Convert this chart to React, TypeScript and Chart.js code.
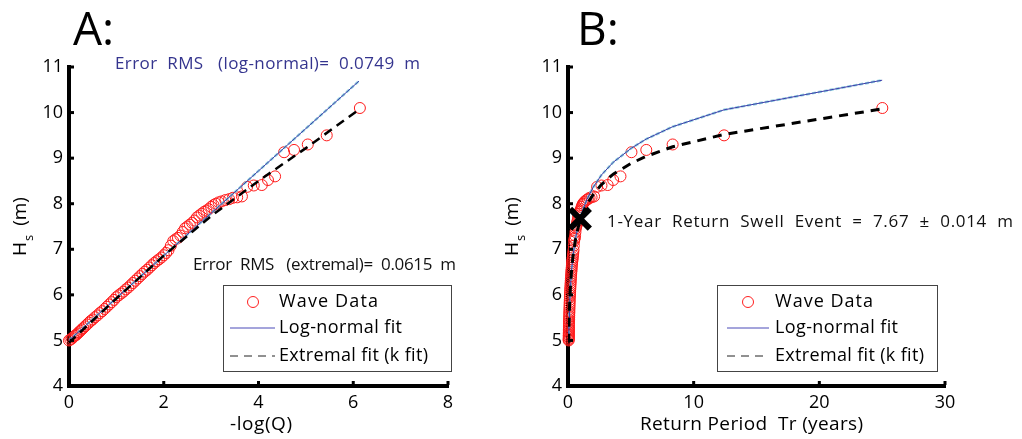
import React, { useEffect, useRef } from "react";
import { Chart, registerables } from "chart.js";
Chart.register(...registerables);

const FONT = "'Open Sans', 'DejaVu Sans', sans-serif";

// ---- Wave data (same events shown in both panels) ----
const negLogQ = [
  0.0, 0.03, 0.06, 0.09, 0.12, 0.15, 0.18, 0.21, 0.24, 0.27, 0.3, 0.34, 0.38, 0.42, 0.46, 0.5,
  0.55, 0.6, 0.65, 0.7, 0.75, 0.8, 0.85, 0.9, 0.95, 1.0, 1.05, 1.1, 1.15, 1.2, 1.25, 1.3, 1.35,
  1.4, 1.45, 1.5, 1.55, 1.6, 1.65, 1.7, 1.75, 1.8, 1.85, 1.9, 1.95, 2.0, 2.05, 2.1, 2.15, 2.2,
  2.25, 2.3, 2.35, 2.4, 2.45, 2.5, 2.55, 2.6, 2.65, 2.7, 2.75, 2.8, 2.85, 2.9, 2.95, 3.0, 3.05,
  3.1, 3.16, 3.22, 3.3, 3.38, 3.46, 3.55, 3.65, 3.76, 3.9, 4.07, 4.2, 4.35, 4.54, 4.75, 5.04,
  5.44, 6.14,
];
const hsData = [
  5.0, 5.02, 5.04, 5.07, 5.1, 5.12, 5.15, 5.18, 5.21, 5.24, 5.27, 5.31, 5.35, 5.39, 5.43, 5.46,
  5.51, 5.55, 5.6, 5.64, 5.69, 5.74, 5.79, 5.84, 5.89, 5.95, 5.99, 6.03, 6.07, 6.12, 6.16, 6.21,
  6.26, 6.31, 6.36, 6.41, 6.46, 6.51, 6.55, 6.6, 6.65, 6.7, 6.74, 6.78, 6.82, 6.87, 6.92, 6.98,
  7.08, 7.18, 7.22, 7.25, 7.3, 7.38, 7.46, 7.5, 7.54, 7.58, 7.63, 7.7, 7.74, 7.78, 7.82, 7.85,
  7.88, 7.93, 7.97, 8.0, 8.03, 8.05, 8.08, 8.1, 8.13, 8.14, 8.16, 8.37, 8.4, 8.41, 8.52, 8.6,
  9.13, 9.18, 9.3, 9.5, 10.1,
];
const returnPeriod = [
  0.054, 0.0555, 0.0572, 0.059, 0.0608, 0.0626, 0.0645, 0.0665, 0.0685, 0.0706, 0.0728, 0.0757,
  0.0788, 0.082, 0.0854, 0.0889, 0.0934, 0.0982, 0.1032, 0.1085, 0.1141, 0.12, 0.1261, 0.1326,
  0.1394, 0.1465, 0.154, 0.1619, 0.1702, 0.179, 0.1881, 0.1978, 0.2079, 0.2186, 0.2298, 0.2416,
  0.254, 0.267, 0.2807, 0.295, 0.3102, 0.3261, 0.3428, 0.3604, 0.3788, 0.3983, 0.4187, 0.4402,
  0.4627, 0.4864, 0.5114, 0.5376, 0.5652, 0.5941, 0.6246, 0.6566, 0.6903, 0.7257, 0.7629,
  0.802, 0.8432, 0.8864, 0.9318, 0.9796, 1.0298, 1.0826, 1.1381, 1.1965, 1.2705, 1.349, 1.4614,
  1.5831, 1.7149, 1.8764, 2.0738, 2.3149, 2.6628, 3.1562, 3.5944, 4.1761, 5.0499, 6.2298,
  8.3259, 12.421, 25.012,
];

// ---- Fits, panel A ----
const lognA_x = [0, 1, 2, 3, 4, 5, 6.12];
const lognA_y = [5.0, 5.93, 6.86, 7.79, 8.72, 9.65, 10.69];
const extA_x = [0, 1, 2, 3, 4, 5, 6.14];
const extA_y = [4.95, 5.92, 6.86, 7.73, 8.5, 9.22, 10.08];

// ---- Fits, panel B ----
const fitB_tr = [0.054, 0.08, 0.12, 0.18, 0.27, 0.4, 0.6, 0.8, 1.08, 1.5, 2.0, 2.66, 3.6, 5.05, 6.23, 8.33, 12.42, 25.0];
const lognB_y = [5.0, 5.37, 5.74, 6.12, 6.5, 6.86, 7.24, 7.51, 7.79, 8.09, 8.36, 8.63, 8.91, 9.22, 9.42, 9.69, 10.06, 10.71];
const extB_y = [4.95, 5.33, 5.73, 6.11, 6.49, 6.86, 7.22, 7.47, 7.73, 7.98, 8.2, 8.42, 8.65, 8.89, 9.04, 9.25, 9.52, 10.08];

const oneYearTr = [0.95];
const oneYearHs = [7.67];

// ---- Tick labels ----
const xTicksA = [0, 2, 4, 6, 8];
const xTicksB = [0, 10, 20, 30];
const yTicks = [4, 5, 6, 7, 8, 9, 10, 11];

const pts = (xs: number[], ys: number[]) => xs.map((x, i) => ({ x, y: ys[i] }));

type TextSpec = { t: string; x: number; y: number; w: number; color: string; size: number };
type Spec = {
  left: number;
  width: number;
  xMax: number;
  xTicks: number[];
  yAxisW: number;
  padRight: number;
  title: string;
  titleX: number;
  yTitleX: number;
  xTitle: TextSpec;
  texts: TextSpec[];
  legend: { x0: number; y0: number; x1: number; y1: number; sym: number; l0: number; l1: number; tx: number; w: number[] };
  datasets: any[];
};

function spaced(ctx: CanvasRenderingContext2D, s: TextSpec, off: number) {
  ctx.save();
  ctx.font = `${s.size}px ${FONT}`;
  ctx.fillStyle = s.color;
  ctx.textBaseline = "middle";
  ctx.textAlign = "left";
  const chars = Array.from(s.t);
  const ws = chars.map((c) => ctx.measureText(c).width);
  const total = ws.reduce((a, b) => a + b, 0);
  const extra = chars.length > 1 ? (s.w - total) / (chars.length - 1) : 0;
  let cx = s.x - off;
  chars.forEach((c, i) => {
    ctx.fillText(c, cx, s.y);
    cx += ws[i] + extra;
  });
  ctx.restore();
}

function overlay(spec: Spec) {
  return {
    id: "overlay" + spec.title,
    afterDraw(chart: any) {
      const ctx: CanvasRenderingContext2D = chart.ctx;
      const off = spec.left;
      const ca = chart.chartArea;
      // tick marks (inward)
      ctx.save();
      ctx.fillStyle = "#000";
      const xs = chart.scales.x, ys = chart.scales.y;
      spec.xTicks.forEach((v) => {
        const px = xs.getPixelForValue(v);
        ctx.fillRect(px - 1.5, ca.bottom - 5, 3, 4);
      });
      yTicks.forEach((v) => {
        const py = ys.getPixelForValue(v);
        ctx.fillRect(ca.left + 1, py - 1.5, 4, 3);
      });
      ctx.restore();
      // panel title
      ctx.save();
      ctx.font = `46px ${FONT}`;
      ctx.fillStyle = "#000";
      ctx.textBaseline = "alphabetic";
      ctx.fillText(spec.title, spec.titleX - off, 45);
      ctx.restore();
      // y axis title H_s (m)
      ctx.save();
      const cy = (ca.top + ca.bottom) / 2;
      ctx.translate(spec.yTitleX - off, cy);
      ctx.rotate(-Math.PI / 2);
      ctx.fillStyle = "#000";
      ctx.textBaseline = "middle";
      ctx.font = `19px ${FONT}`;
      const wH = ctx.measureText("H").width;
      ctx.font = `13px ${FONT}`;
      const wS = ctx.measureText("s").width;
      ctx.font = `19px ${FONT}`;
      const wM = ctx.measureText("  (m)").width;
      let x0 = -(wH + wS + wM) / 2;
      ctx.fillText("H", x0, 0);
      ctx.font = `13px ${FONT}`;
      ctx.fillText("s", x0 + wH + 1, 8);
      ctx.font = `19px ${FONT}`;
      ctx.fillText("  (m)", x0 + wH + wS, 0);
      ctx.restore();
      // x title and annotations
      spaced(ctx, spec.xTitle, off);
      spec.texts.forEach((t) => spaced(ctx, t, off));
      // legend
      const L = spec.legend;
      ctx.save();
      ctx.fillStyle = "#fff";
      ctx.fillRect(L.x0 - off, L.y0, L.x1 - L.x0, L.y1 - L.y0);
      ctx.strokeStyle = "#444";
      ctx.lineWidth = 1;
      ctx.strokeRect(L.x0 - off + 0.5, L.y0 + 0.5, L.x1 - L.x0, L.y1 - L.y0);
      const rowY = [L.y0 + 17, L.y0 + 43, L.y0 + 71];
      ctx.strokeStyle = "#ff2020";
      ctx.beginPath();
      ctx.arc(L.sym - off, rowY[0], 5.5, 0, Math.PI * 2);
      ctx.stroke();
      ctx.strokeStyle = "#4a4ab8";
      ctx.beginPath();
      ctx.moveTo(L.l0 - off, rowY[1]);
      ctx.lineTo(L.l1 - off, rowY[1]);
      ctx.stroke();
      ctx.strokeStyle = "#222";
      ctx.setLineDash([8, 6]);
      ctx.beginPath();
      ctx.moveTo(L.l0 - off, rowY[2]);
      ctx.lineTo(L.l1 - off, rowY[2]);
      ctx.stroke();
      ctx.setLineDash([]);
      ctx.restore();
      const labels = ["Wave Data", "Log-normal fit", "Extremal fit (k fit)"];
      labels.forEach((t, i) =>
        spaced(ctx, { t, x: L.tx, y: rowY[i], w: L.w[i], color: "#000", size: 18 }, off)
      );
    },
  };
}

function makeConfig(spec: Spec): any {
  return {
    type: "scatter",
    data: { datasets: spec.datasets },
    options: {
      responsive: false,
      animation: false,
      events: [],
      layout: { padding: { left: 0, right: spec.padRight, top: 67, bottom: 0 } },
      plugins: { legend: { display: false }, tooltip: { enabled: false } },
      scales: {
        x: {
          type: "linear",
          min: 0,
          max: spec.xMax,
          afterBuildTicks: (s: any) => {
            s.ticks = spec.xTicks.map((v) => ({ value: v }));
          },
          afterFit: (s: any) => {
            s.height = 53;
          },
          grid: { display: false, drawTicks: false },
          border: { display: true, color: "#000", width: 4 },
          ticks: { font: { family: FONT, size: 18 }, color: "#000", padding: 6, maxRotation: 0 },
        },
        y: {
          type: "linear",
          min: 4,
          max: 11,
          afterBuildTicks: (s: any) => {
            s.ticks = yTicks.map((v) => ({ value: v }));
          },
          afterFit: (s: any) => {
            s.width = spec.yAxisW;
          },
          grid: { display: false, drawTicks: false },
          border: { display: true, color: "#000", width: 4 },
          ticks: { font: { family: FONT, size: 18 }, color: "#000", padding: 6 },
        },
      },
    },
    plugins: [overlay(spec)],
  };
}

const lineDs = (data: any[], color: string, width: number, dash: number[] = []) => ({
  data,
  showLine: true,
  borderColor: color,
  borderWidth: width,
  borderDash: dash,
  pointRadius: 0,
  fill: false,
});

const waveDs = (data: any[]) => ({
  data,
  showLine: false,
  pointStyle: "circle",
  pointRadius: 5.5,
  borderColor: "#ff1a1a",
  backgroundColor: "rgba(0,0,0,0)",
  borderWidth: 1,
  clip: false,
});

const specA: Spec = {
  left: 0,
  width: 511,
  xMax: 8,
  xTicks: xTicksA,
  yAxisW: 69,
  padRight: 63,
  title: "A:",
  titleX: 73,
  yTitleX: 21,
  xTitle: { t: "-log(Q)", x: 230, y: 425, w: 62, color: "#000", size: 19 },
  texts: [
    { t: "Error  RMS   (log-normal)=  0.0749  m", x: 115, y: 64, w: 305, color: "#34348e", size: 17 },
    { t: "Error  RMS   (extremal)=  0.0615  m", x: 193, y: 265, w: 263, color: "#111", size: 17 },
  ],
  legend: { x0: 223, y0: 285, x1: 451, y1: 371, sym: 253, l0: 230, l1: 275, tx: 279, w: [99, 123, 149] },
  datasets: [
    lineDs(pts(extA_x, extA_y), "#000", 2.5, [9, 6]),
    lineDs(pts(lognA_x, lognA_y), "#3c3caa", 1),
    lineDs(pts(lognA_x, lognA_y), "rgba(120,200,215,0.8)", 2.5, [4, 2]),
    waveDs(pts(negLogQ, hsData)),
  ],
};

const specB: Spec = {
  left: 490,
  width: 532,
  xMax: 30,
  xTicks: xTicksB,
  yAxisW: 78,
  padRight: 77,
  title: "B:",
  titleX: 577,
  yTitleX: 513,
  xTitle: { t: "Return Period  Tr (years)", x: 640, y: 425, w: 223, color: "#000", size: 19 },
  texts: [
    { t: "1-Year  Return  Swell  Event  =  7.67  ±  0.014  m", x: 607, y: 222, w: 406, color: "#111", size: 17 },
  ],
  legend: { x0: 717, y0: 285, x1: 937, y1: 371, sym: 748, l0: 727, l1: 769, tx: 775, w: [98, 123, 149] },
  datasets: [
    {
      data: pts(oneYearTr, oneYearHs),
      showLine: false,
      pointStyle: "crossRot",
      pointRadius: 14,
      borderWidth: 6,
      borderColor: "#000",
      backgroundColor: "#000",
      clip: false,
    },
    lineDs(pts(fitB_tr, extB_y), "#000", 3, [9, 7]),
    lineDs(pts(fitB_tr, lognB_y), "#3c3caa", 1),
    lineDs(pts(fitB_tr, lognB_y), "rgba(120,200,215,0.8)", 2.5, [4, 2]),
    waveDs(pts(returnPeriod, hsData)),
  ],
};

function Panel({ spec }: { spec: Spec }) {
  const ref = useRef<HTMLCanvasElement>(null);
  useEffect(() => {
    if (!ref.current) return;
    const chart = new Chart(ref.current, makeConfig(spec));
    return () => chart.destroy();
  }, [spec]);
  return (
    <canvas
      ref={ref}
      width={spec.width}
      height={439}
      style={{ position: "absolute", left: spec.left, top: 0, width: spec.width, height: 439, display: "block" }}
    />
  );
}

export default function App() {
  return (
    <div style={{ position: "absolute", left: 0, top: 0, width: 1022, height: 439, background: "#fff" }}>
      <Panel spec={specA} />
      <Panel spec={specB} />
    </div>
  );
}
